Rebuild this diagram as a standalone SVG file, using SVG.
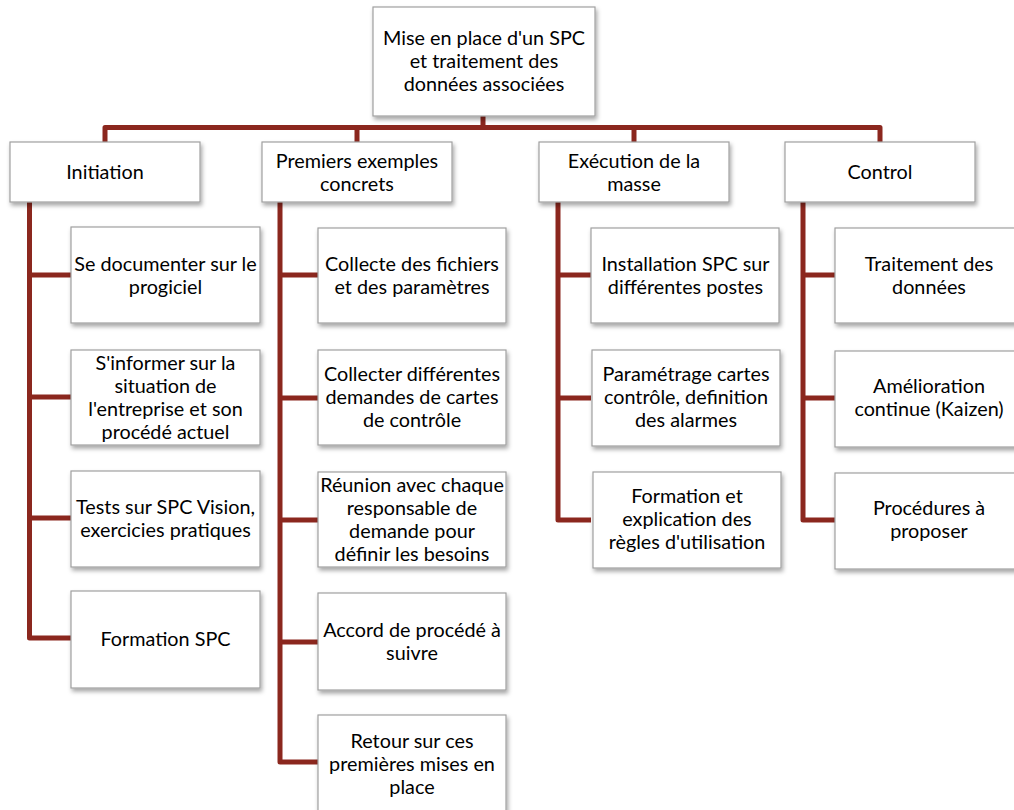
<svg xmlns="http://www.w3.org/2000/svg" width="1014" height="810" viewBox="0 0 1014 810">
<defs>
<filter id="sh" x="-10%" y="-10%" width="130%" height="140%">
<feDropShadow dx="1.5" dy="3" stdDeviation="2" flood-color="#000" flood-opacity="0.35"/>
</filter>
<style>
.box{fill:#fff;stroke:#a0a0a0;stroke-width:1.2;filter:url(#sh)}
.t{font-family:Lato,"Open Sans","Liberation Sans",sans-serif;font-size:19.8px;fill:#000;text-anchor:middle}
.c{fill:none;stroke:#8b271e;stroke-width:5;stroke-linejoin:round}
</style>
</defs>
<rect width="1014" height="810" fill="#fff"/>
<g id="connectors">
<path class="c" d="M483,116 V127.5"/>
<path class="c" d="M105,142 V127.5 H880 V142"/>
<path class="c" d="M357,127.5 V142"/>
<path class="c" d="M634,127.5 V142"/>
<path class="c" d="M29.5,202 V638 H71"/>
<path class="c" d="M29.5,275 H71 M29.5,397 H71 M29.5,518 H71"/>
<path class="c" d="M280,202 V762 H318"/>
<path class="c" d="M280,275 H318 M280,398 H318 M280,520 H318 M280,642 H318"/>
<path class="c" d="M558,202 V520 H591"/>
<path class="c" d="M558,275 H591 M558,398 H591"/>
<path class="c" d="M803,202 V520 H835"/>
<path class="c" d="M803,275 H835 M803,398 H835"/>
</g>
<g id="root"><rect class="box" x="373" y="7" width="222" height="109"/>
<text class="t" x="484"><tspan x="484" y="45">Mise en place d'un SPC</tspan><tspan x="484" y="68">et traitement des</tspan><tspan x="484" y="91">données associées</tspan></text></g>
<g id="initiation"><rect class="box" x="10" y="142" width="190" height="60"/>
<text class="t" x="105" y="179">Initiation</text></g>
<g id="premiers"><rect class="box" x="262" y="142" width="190" height="60"/>
<text class="t"><tspan x="357" y="167.5">Premiers exemples</tspan><tspan x="357" y="190.5">concrets</tspan></text></g>
<g id="execution"><rect class="box" x="539" y="142" width="190" height="60"/>
<text class="t"><tspan x="634" y="167.5">Exécution de la</tspan><tspan x="634" y="190.5">masse</tspan></text></g>
<g id="control"><rect class="box" x="785" y="142" width="190" height="60"/>
<text class="t" x="880" y="179">Control</text></g>

<g id="i1"><rect class="box" x="71" y="227" width="189" height="96"/>
<text class="t"><tspan x="165.5" y="270.5">Se documenter sur le</tspan><tspan x="165.5" y="293.5">progiciel</tspan></text></g>
<g id="i2"><rect class="box" x="71" y="350" width="189" height="95"/>
<text class="t"><tspan x="165.5" y="369.5">S'informer sur la</tspan><tspan x="165.5" y="392.5">situation de</tspan><tspan x="165.5" y="415.5">l'entreprise et son</tspan><tspan x="165.5" y="438.5">procédé actuel</tspan></text></g>
<g id="i3"><rect class="box" x="71" y="471" width="189" height="96"/>
<text class="t"><tspan x="165.5" y="513.5">Tests sur SPC Vision,</tspan><tspan x="165.5" y="536.5">exercicies pratiques</tspan></text></g>
<g id="i4"><rect class="box" x="71" y="591" width="189" height="97"/>
<text class="t" x="165.5" y="646">Formation SPC</text></g>

<g id="p1"><rect class="box" x="318" y="228" width="188" height="95"/>
<text class="t"><tspan x="412" y="270.5">Collecte des fichiers</tspan><tspan x="412" y="293.5">et des paramètres</tspan></text></g>
<g id="p2"><rect class="box" x="318" y="350" width="188" height="95"/>
<text class="t"><tspan x="412" y="381">Collecter différentes</tspan><tspan x="412" y="404">demandes de cartes</tspan><tspan x="412" y="427">de contrôle</tspan></text></g>
<g id="p3"><rect class="box" x="318" y="472" width="188" height="95"/>
<text class="t"><tspan x="412" y="491.5">Réunion avec chaque</tspan><tspan x="412" y="514.5">responsable de</tspan><tspan x="412" y="537.5">demande pour</tspan><tspan x="412" y="560.5">définir les besoins</tspan></text></g>
<g id="p4"><rect class="box" x="318" y="593" width="188" height="97"/>
<text class="t"><tspan x="412" y="637">Accord de procédé à</tspan><tspan x="412" y="660">suivre</tspan></text></g>
<g id="p5"><rect class="box" x="318" y="715" width="188" height="100"/>
<text class="t"><tspan x="412" y="748">Retour sur ces</tspan><tspan x="412" y="771">premières mises en</tspan><tspan x="412" y="794">place</tspan></text></g>

<g id="e1"><rect class="box" x="591" y="228" width="188" height="95"/>
<text class="t"><tspan x="685.5" y="270.5">Installation SPC sur</tspan><tspan x="685.5" y="293.5">différentes postes</tspan></text></g>
<g id="e2"><rect class="box" x="592" y="350" width="188" height="96"/>
<text class="t"><tspan x="686" y="381">Paramétrage cartes</tspan><tspan x="686" y="404">contrôle, definition</tspan><tspan x="686" y="427">des alarmes</tspan></text></g>
<g id="e3"><rect class="box" x="593" y="472" width="188" height="96"/>
<text class="t"><tspan x="687" y="503">Formation et</tspan><tspan x="687" y="526">explication des</tspan><tspan x="687" y="549">règles d'utilisation</tspan></text></g>

<g id="c1"><rect class="box" x="835" y="228" width="189" height="95"/>
<text class="t"><tspan x="929" y="270.5">Traitement des</tspan><tspan x="929" y="293.5">données</tspan></text></g>
<g id="c2"><rect class="box" x="835" y="351" width="189" height="96"/>
<text class="t"><tspan x="929" y="393">Amélioration</tspan><tspan x="929" y="416">continue (Kaizen)</tspan></text></g>
<g id="c3"><rect class="box" x="835" y="473" width="189" height="96"/>
<text class="t"><tspan x="929" y="515">Procédures à</tspan><tspan x="929" y="538">proposer</tspan></text></g>
</svg>
